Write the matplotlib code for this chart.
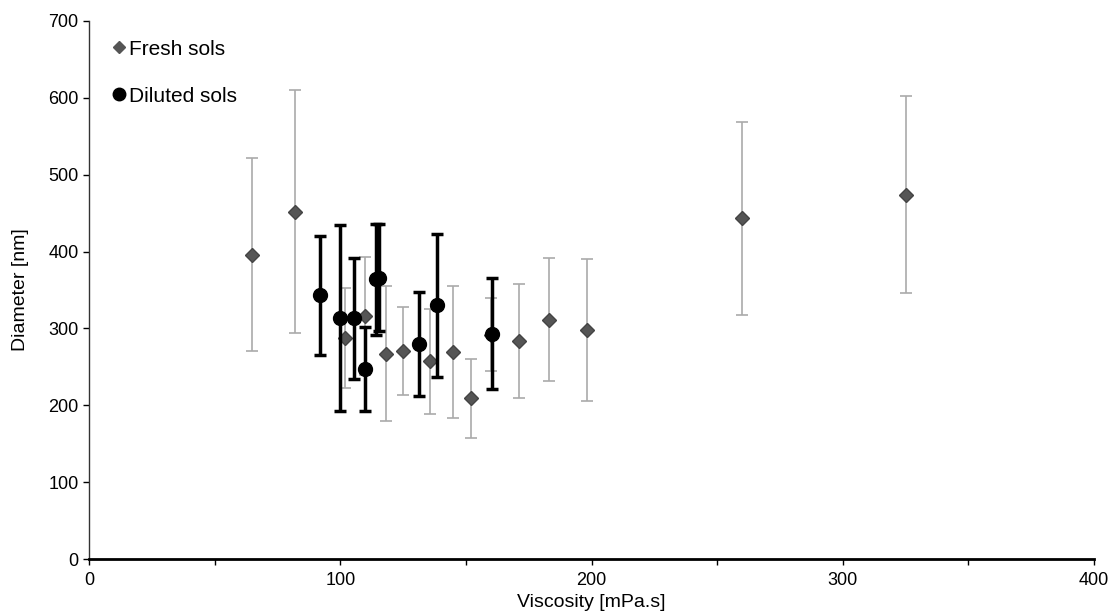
import matplotlib
matplotlib.use("Agg")
import matplotlib.pyplot as plt
from matplotlib.ticker import MultipleLocator
from matplotlib.lines import Line2D

plt.rcParams['font.family'] = ['Liberation Sans', 'DejaVu Sans']

# Fresh sols
fresh_x = [65, 82, 101.7, 110, 118, 124.8, 135.9, 145, 152, 160, 171, 183, 198, 260, 325]
fresh_y = [396, 452, 287, 316, 267, 271, 257, 269, 209, 292, 284, 311, 298, 443, 474]
fresh_err = [126, 158, 65, 77, 88, 57, 68, 86, 51, 48, 74, 80, 92, 125, 128]

# Diluted sols
dil_x = [92, 100, 105.3, 110, 114.3, 115.3, 131.2, 138.3, 160.4]
dil_y = [343, 313, 313, 247, 364, 366, 280, 330, 293]
dil_err = [77, 121, 79, 55, 72, 70, 68, 93, 72]

fig = plt.figure(figsize=(11.09, 6.15), dpi=100)
ax = fig.add_axes([0.0803, 0.091, 0.9062, 0.875])

ax.errorbar(fresh_x, fresh_y, yerr=fresh_err, fmt='D', color='#555555',
            markersize=7, markeredgecolor='#444444', ecolor='#aaaaaa',
            elinewidth=1.2, capsize=4, capthick=1.2, zorder=2)
ax.errorbar(dil_x, dil_y, yerr=dil_err, fmt='o', color='black',
            markersize=10, ecolor='black', elinewidth=2.5, capsize=4,
            capthick=2.5, zorder=3)

ax.set_xlim(0, 400)
ax.set_ylim(0, 700)
ax.xaxis.set_major_locator(MultipleLocator(100))
ax.xaxis.set_minor_locator(MultipleLocator(50))
ax.yaxis.set_major_locator(MultipleLocator(100))
ax.tick_params(axis='x', which='major', direction='out', length=4, width=1, labelsize=13, pad=5)
ax.tick_params(axis='x', which='minor', direction='out', length=4, width=1)
ax.tick_params(axis='y', which='major', direction='out', length=4, width=1, labelsize=13)

for s in ['top', 'right']:
    ax.spines[s].set_visible(False)
ax.spines['left'].set_linewidth(1.0)
ax.spines['left'].set_color('#333333')
ax.spines['bottom'].set_linewidth(2.0)
ax.spines['bottom'].set_color('black')

ax.set_xlabel('Viscosity [mPa.s]', fontsize=14, labelpad=4)
ax.set_ylabel('Diameter [nm]', fontsize=14, labelpad=14)

handles = [
    Line2D([], [], linestyle='none', marker='D', color='#555555', markersize=6),
    Line2D([], [], linestyle='none', marker='o', color='black', markersize=9),
]
ax.legend(handles, ['Fresh sols', 'Diluted sols'], loc='upper left',
          bbox_to_anchor=(0.005, 1.0), frameon=False, fontsize=15,
          handlelength=0.6, handletextpad=0.2, labelspacing=1.35)

fig.savefig('out.png', dpi=100)
